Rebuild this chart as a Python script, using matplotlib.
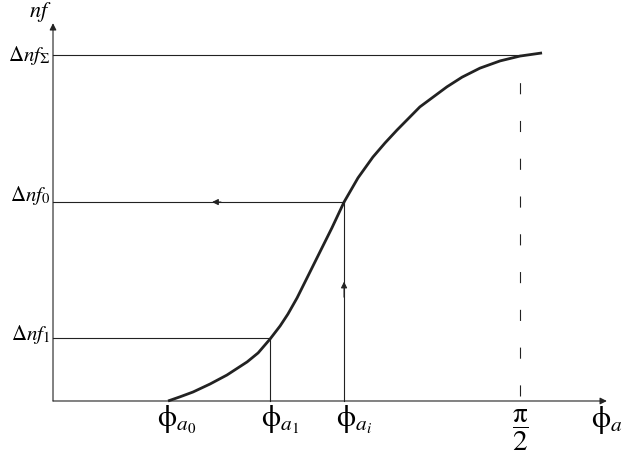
import numpy as np
import matplotlib.pyplot as plt

plt.rcParams['mathtext.fontset'] = 'stix'
plt.rcParams['font.family'] = 'Liberation Serif'

# curve nf(phi_a), phi in rad, nf normalised to delta nf_sigma = 1
phi = [0.387, 0.427, 0.471, 0.528, 0.585, 0.653, 0.690, 0.730, 0.764,
       0.790, 0.821, 0.861, 0.898, 0.938, 0.979, 1.026, 1.076, 1.117,
       1.157, 1.234, 1.325, 1.376, 1.436, 1.504, 1.571, 1.645]
nf = [0.000, 0.012, 0.026, 0.049, 0.075, 0.113, 0.139, 0.179, 0.217,
      0.251, 0.298, 0.367, 0.431, 0.500, 0.575, 0.645, 0.705, 0.746,
      0.783, 0.850, 0.908, 0.936, 0.962, 0.983, 0.997, 1.006]

phi_a0 = 0.387
phi_a1 = 0.730
phi_ai = 0.979
phi_half_pi = np.pi / 2
nf_sigma = 1.0
nf_0 = 0.575
nf_1 = 0.182

x_end = 1.863
y_end = 1.092

fig = plt.figure(figsize=(6.23, 4.54), dpi=100)
ax = fig.add_axes([0, 0, 1, 1])
ax.set_xlim(-0.1783, 1.9173)
ax.set_ylim(-0.1532, 1.159)
ax.axis('off')

lc = '#222222'
# axes with arrows
arr = dict(arrowstyle='-|>', color=lc, lw=0.8, mutation_scale=10, shrinkA=0, shrinkB=0)
ax.annotate('', xy=(x_end, 0), xytext=(0, 0), arrowprops=arr)
ax.annotate('', xy=(0, y_end), xytext=(0, 0), arrowprops=arr)

# the curve
ax.plot(phi, nf, color=lc, lw=2.0, solid_capstyle='butt', solid_joinstyle='round')

# guide lines
ax.plot([0, phi_half_pi], [nf_sigma, nf_sigma], color=lc, lw=0.8)
ax.plot([0, phi_ai], [nf_0, nf_0], color=lc, lw=0.8)
ax.plot([0, phi_a1], [nf_1, nf_1], color=lc, lw=0.8)
ax.plot([phi_a1, phi_a1], [0, nf_1], color=lc, lw=0.8)
ax.plot([phi_ai, phi_ai], [0, nf_0], color=lc, lw=0.8)
ax.plot([phi_half_pi, phi_half_pi], [0.015, nf_sigma], color=lc, lw=0.8,
        linestyle=(0, (10, 24)))

# small direction arrows
arr2 = dict(arrowstyle='-|>', color=lc, lw=0.8, mutation_scale=9, shrinkA=0, shrinkB=0)
ax.annotate('', xy=(0.535, nf_0), xytext=(0.565, nf_0), arrowprops=arr2)
ax.annotate('', xy=(phi_ai, 0.345), xytext=(phi_ai, 0.30), arrowprops=arr2)

# labels
ax.text(-0.044, 1.124, r'$nf$', fontsize=16, ha='center', va='center')
ax.text(-0.008, nf_sigma, r'$\Delta nf_{\Sigma}$', fontsize=15, ha='right', va='center')
ax.text(-0.008, nf_0 + 0.02, r'$\Delta nf_{0}$', fontsize=15, ha='right', va='center')
ax.text(-0.008, nf_1 + 0.01, r'$\Delta nf_{1}$', fontsize=15, ha='right', va='center')

ax.text(phi_a0 + 0.03, -0.055, r'$\mathrm{\phi}_{a_0}$', fontsize=22, ha='center', va='center')
ax.text(phi_a1 + 0.035, -0.055, r'$\mathrm{\phi}_{a_1}$', fontsize=22, ha='center', va='center')
ax.text(phi_ai + 0.035, -0.055, r'$\mathrm{\phi}_{a_i}$', fontsize=22, ha='center', va='center')
ax.text(phi_half_pi, -0.085, r'$\dfrac{\mathrm{\pi}}{2}$', fontsize=21, ha='center', va='center')
ax.text(x_end + 0.0, -0.055, r'$\mathrm{\phi}_{a}$', fontsize=22, ha='center', va='center')

fig.savefig('out.png', dpi=100)
